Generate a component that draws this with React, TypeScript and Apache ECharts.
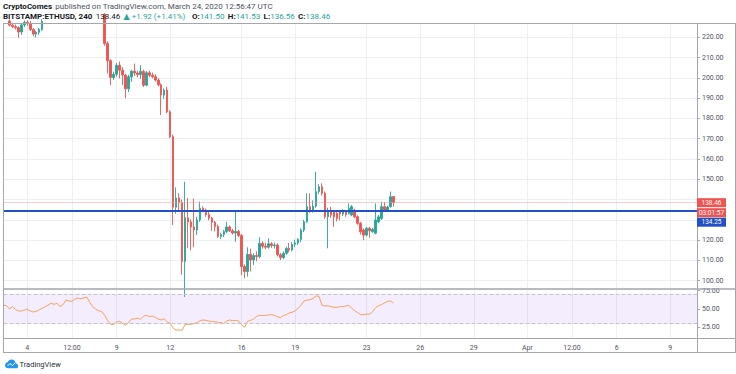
import React, { useEffect, useRef } from "react";
import * as echarts from "echarts";

// ---------- data ----------
const slotCount = 234; // 4h slots from Mar 2 16:00 UTC to Apr 10
const startTime = Date.UTC(2020, 2, 2, 16);
const tickSlots = [8, 23, 38, 56, 80, 98, 122, 140, 158, 176, 191, 206, 224];
const tickLabels = ["4", "12:00", "9", "12", "16", "19", "23", "26", "29", "Apr", "12:00", "6", "9"];

const opens = [
  230.0, 231.5, 228.0, 226.0, 225.3, 224.8, 222.6, 226.1, 227.4, 226.8,
  223.8, 221.6, 222.5, 223.9, 227.8, 229.6, 231.2, 230.1, 232.8, 236.5,
  241.2, 243.8, 242.0, 244.6, 246.3, 243.1, 244.0, 240.7, 238.2, 239.4,
  236.8, 237.5, 235.9, 233.0, 231.2, 217.0, 208.5, 200.2, 201.8, 206.2,
  203.8, 201.4, 194.6, 200.5, 203.3, 202.4, 201.6, 203.2, 196.4, 202.5,
  201.3, 200.6, 198.9, 196.6, 191.5, 194.0, 183.3, 171.0, 136.2, 140.8,
  138.6, 109.5, 131.0, 129.0, 126.5, 125.0, 130.0, 135.7, 134.9, 132.6,
  130.9, 128.8, 126.7, 121.8, 122.8, 124.2, 126.5, 124.6, 123.5, 124.3,
  122.3, 107.0, 104.5, 113.0, 110.2, 112.4, 111.9, 118.4, 117.0, 116.5,
  118.2, 117.3, 117.6, 112.8, 111.4, 113.5, 115.9, 115.1, 118.0, 118.6,
  120.3, 125.0, 129.1, 136.5, 134.9, 136.8, 143.9, 146.3, 143.1, 131.5,
  134.8, 134.0, 133.2, 134.0, 132.9, 134.0, 133.2, 132.4, 134.8, 131.5,
  128.3, 125.0, 122.5, 125.8, 124.2, 123.4, 129.0, 130.7, 136.5, 134.8,
  136.5, 141.5,
];
const closes = [
  231.5, 228.0, 226.0, 225.3, 224.8, 222.6, 226.1, 227.4, 226.8, 223.8,
  221.6, 222.5, 223.9, 227.8, 229.6, 231.2, 230.1, 232.8, 236.5, 241.2,
  243.8, 242.0, 244.6, 246.3, 243.1, 244.0, 240.7, 238.2, 239.4, 236.8,
  237.5, 235.9, 233.0, 231.2, 217.0, 208.5, 200.2, 201.8, 206.2, 203.8,
  201.4, 194.6, 200.5, 203.3, 202.4, 201.6, 203.2, 196.4, 202.5, 201.3,
  200.6, 198.9, 196.6, 191.5, 194.0, 183.3, 171.0, 136.2, 140.8, 138.6,
  109.5, 131.0, 129.0, 126.5, 125.0, 130.0, 135.7, 134.9, 132.6, 130.9,
  128.8, 126.7, 121.8, 122.8, 124.2, 126.5, 124.6, 123.5, 124.3, 122.3,
  107.0, 104.5, 113.0, 110.2, 112.4, 111.9, 118.4, 117.0, 116.5, 118.2,
  117.3, 117.6, 112.8, 111.4, 113.5, 115.9, 115.1, 118.0, 118.6, 120.3,
  125.0, 129.1, 136.5, 134.9, 136.8, 143.9, 146.3, 143.1, 131.5, 134.0,
  132.4, 131.5, 130.7, 132.9, 134.4, 132.6, 135.7, 136.5, 131.5, 128.3,
  124.1, 122.5, 125.8, 124.6, 125.4, 129.9, 131.5, 136.5, 134.8, 136.3,
  141.4, 138.46,
];
const lows = [
  228.5, 227.6, 225.4, 224.6, 223.8, 219.8, 221.2, 225.0, 225.6, 223.1,
  220.5, 219.9, 221.2, 223.2, 227.7, 228.4, 229.0, 229.6, 232.1, 235.8,
  240.1, 240.6, 241.2, 243.5, 242.0, 241.3, 239.5, 236.9, 237.0, 235.6,
  235.1, 234.2, 231.5, 229.4, 215.8, 202.2, 196.5, 199.0, 200.6, 199.8,
  196.5, 189.9, 193.0, 198.0, 201.0, 200.3, 199.5, 195.5, 195.8, 200.4,
  199.8, 198.2, 195.8, 181.7, 189.5, 182.5, 170.2, 127.5, 133.0, 134.0,
  103.0, 92.0, 116.0, 115.0, 116.5, 122.5, 129.0, 133.8, 131.5, 129.8,
  124.6, 124.3, 121.0, 120.6, 121.5, 123.5, 124.0, 122.8, 119.2, 121.5,
  102.8, 101.2, 102.0, 104.5, 107.8, 109.5, 111.0, 115.8, 115.5, 115.8,
  116.2, 115.9, 112.0, 110.2, 110.6, 112.8, 113.9, 114.5, 116.5, 117.6,
  119.0, 124.0, 128.5, 133.5, 133.6, 136.0, 142.8, 142.0, 130.5, 116.0,
  131.0, 126.6, 129.2, 129.8, 131.9, 131.5, 132.6, 131.8, 130.8, 127.6,
  122.8, 120.0, 121.8, 121.2, 123.6, 122.9, 128.4, 130.0, 134.0, 134.2,
  136.0, 136.56,
];
const highs = [
  233.0, 232.0, 228.8, 227.2, 226.3, 225.4, 226.8, 228.3, 228.5, 228.0,
  224.5, 223.2, 224.6, 229.0, 230.8, 232.5, 232.0, 233.9, 237.8, 242.6,
  245.3, 245.0, 246.1, 248.2, 247.0, 245.2, 244.8, 241.8, 240.5, 240.1,
  238.6, 238.3, 236.4, 234.1, 232.0, 218.0, 209.2, 203.0, 207.3, 208.0,
  205.2, 202.0, 201.5, 204.0, 207.0, 203.5, 206.3, 204.0, 203.4, 203.6,
  202.6, 201.8, 199.8, 197.3, 194.8, 195.6, 184.0, 172.0, 146.0, 143.2,
  140.0, 148.8, 140.8, 130.2, 140.5, 131.5, 139.0, 136.6, 135.6, 133.9,
  131.5, 129.5, 127.6, 123.6, 125.0, 129.0, 127.3, 125.6, 134.3, 125.0,
  123.0, 108.0, 116.5, 115.8, 113.5, 114.5, 121.4, 119.5, 118.8, 120.9,
  119.0, 118.8, 118.5, 113.6, 114.5, 116.8, 118.6, 119.0, 120.2, 121.0,
  125.8, 130.0, 143.1, 143.0, 139.6, 153.7, 147.6, 148.0, 144.0, 136.0,
  136.4, 134.6, 134.0, 134.8, 135.2, 134.8, 138.1, 137.3, 135.5, 132.2,
  129.0, 125.8, 126.5, 126.6, 126.1, 138.1, 132.4, 138.9, 138.8, 137.0,
  143.9, 141.53,
];
const rsi = [
  55.1, 54.6, 50.0, 53.2, 49.6, 47.3, 47.3, 48.6, 49.6, 47.3,
  45.9, 46.8, 49.1, 50.9, 53.2, 55.5, 57.8, 56.4, 57.8, 53.2,
  55.9, 62.3, 60.9, 60.5, 63.7, 65.0, 64.1, 65.0, 66.4, 59.0,
  53.2, 49.6, 47.7, 46.4, 41.4, 34.1, 29.1, 28.6, 32.3, 33.2,
  30.4, 27.7, 31.3, 36.3, 36.3, 37.7, 35.9, 40.0, 41.4, 39.5,
  40.4, 38.6, 36.3, 35.0, 36.8, 32.3, 30.4, 24.0, 21.3, 21.3,
  20.9, 28.6, 29.1, 29.1, 30.0, 31.3, 34.0, 35.0, 34.5, 33.6,
  33.0, 32.7, 32.0, 31.3, 30.4, 33.6, 35.0, 34.0, 34.5, 33.6,
  28.6, 25.0, 33.2, 34.5, 35.9, 39.9, 41.4, 41.0, 41.4, 41.8,
  42.2, 41.4, 39.5, 38.1, 40.9, 42.2, 44.6, 45.5, 47.7, 50.9,
  55.5, 60.9, 62.3, 62.7, 64.5, 67.8, 67.3, 55.1, 54.1, 54.6,
  53.2, 52.3, 52.3, 53.2, 53.2, 54.1, 55.1, 51.0, 47.7, 45.0,
  42.2, 42.2, 43.2, 42.7, 46.4, 51.8, 54.6, 55.9, 58.2, 60.4,
  60.9, 58.2,
];
const rsiTicks = [25, 50, 75];
const rsiBand = [30, 70];
const lastPrice = 138.46;
const levelPrice = 134.25;
const countdown = "03:01:57";

// ---------- style ----------
const FONT = 'Roboto, "DejaVu Sans", sans-serif';
const UP = "#26a69a";
const DOWN = "#ef5350";
const GRID = "#eceff5";
const BORDER = "#a3a6ae";
const AXIS_TEXT = "#50535e";
const BLUE = "#2150c8";

echarts.graphic.registerShape(
  "tvcloud",
  echarts.graphic.extendPath(
    "M6 16 C2.5 16 0 13.5 0 10.5 C0 7.7 2.1 5.4 4.8 5.1 C5.9 2.1 8.7 0 12 0 C15.9 0 19.1 2.9 19.5 6.7 C22.1 7.2 24 9.5 24 12.2 C24 14.3 22.3 16 20.2 16 Z",
    {}
  )
);

const categories = Array.from({ length: slotCount }, (_, i) =>
  new Date(startTime + i * 4 * 3600 * 1000).toISOString().slice(0, 16)
);
const isTick = (index: number) => tickSlots.indexOf(index) >= 0;
const labelFor = (index: number) => {
  const k = tickSlots.indexOf(index);
  return k >= 0 ? tickLabels[k] : "";
};
// price-scale labels hidden behind the price tags (as TradingView does)
const hiddenByTag = (v: number) => Math.abs(v - lastPrice) < 6 || Math.abs(v - levelPrice) < 6;

const candleData = opens.map((o, i) => [o, closes[i], lows[i], highs[i]]);

function buildOption() {
  const xBase = {
    type: "category",
    data: categories,
    boundaryGap: false,
    axisLine: { show: false },
    axisTick: { show: false },
    splitLine: { show: true, interval: isTick, lineStyle: { color: GRID, width: 1 } },
  };
  return {
    animation: false,
    backgroundColor: "#ffffff",
    textStyle: { fontFamily: FONT },
    grid: [
      { left: 3.5, right: 39, top: 23, height: 266 },
      { left: 3.5, right: 39, top: 289, height: 49 },
    ],
    xAxis: [
      { ...xBase, gridIndex: 0, axisLabel: { show: false } },
      {
        ...xBase,
        gridIndex: 1,
        axisLabel: {
          show: true,
          interval: isTick,
          formatter: (_v: string, i: number) => labelFor(i),
          fontSize: 7,
          color: AXIS_TEXT,
          margin: 6,
          fontFamily: FONT,
        },
      },
    ],
    yAxis: [
      {
        type: "value",
        gridIndex: 0,
        position: "right",
        min: 95.91,
        max: 227.05,
        splitNumber: 13,
        axisLine: { show: false },
        axisTick: { show: true, length: 3, lineStyle: { color: BORDER } },
        axisLabel: {
          showMinLabel: false,
          showMaxLabel: false,
          formatter: (v: number) => (hiddenByTag(v) ? "" : v.toFixed(2)),
          fontSize: 7,
          color: AXIS_TEXT,
          margin: 5,
          fontFamily: FONT,
        },
        splitLine: { show: true, lineStyle: { color: GRID, width: 1 } },
      },
      {
        type: "value",
        gridIndex: 1,
        position: "right",
        min: 10.38,
        max: 77.32,
        axisLine: { show: false },
        axisTick: { show: true, length: 3, customValues: rsiTicks, lineStyle: { color: BORDER } },
        axisLabel: {
          customValues: rsiTicks,
          formatter: (v: number) => v.toFixed(2),
          fontSize: 7,
          color: AXIS_TEXT,
          margin: 5,
          fontFamily: FONT,
        },
        splitLine: { show: false },
      },
    ],
    series: [
      {
        type: "candlestick",
        xAxisIndex: 0,
        yAxisIndex: 0,
        data: candleData,
        barWidth: 2,
        clip: true,
        itemStyle: {
          color: UP,
          color0: DOWN,
          borderColor: UP,
          borderColor0: DOWN,
          borderWidth: 0.9,
        },
        markLine: {
          silent: true,
          symbol: ["none", "none"],
          label: { show: false },
          data: [
            { yAxis: lastPrice, lineStyle: { color: "#f29c9a", type: "dotted", width: 1 } },
            { yAxis: levelPrice, lineStyle: { color: BLUE, type: "solid", width: 2 } },
          ],
        },
      },
      {
        type: "line",
        xAxisIndex: 1,
        yAxisIndex: 1,
        data: rsi,
        symbol: "none",
        showSymbol: false,
        lineStyle: { color: "#f5a15c", width: 1 },
        markArea: {
          silent: true,
          itemStyle: { color: "rgba(149, 76, 233, 0.1)" },
          data: [[{ yAxis: rsiBand[0] }, { yAxis: rsiBand[1] }]],
        },
        markLine: {
          silent: true,
          symbol: ["none", "none"],
          label: { show: false },
          lineStyle: { color: "#c6c3cc", type: "dashed", width: 1 },
          data: [{ yAxis: rsiBand[1] }, { yAxis: rsiBand[0] }],
        },
      },
    ],
  };
}

function hline(y: number, x1: number, x2: number, w = 1, color = BORDER) {
  return { type: "line", z: 100, shape: { x1, y1: y, x2, y2: y }, style: { stroke: color, lineWidth: w } };
}
function vline(x: number, y1: number, y2: number, w = 1, color = BORDER) {
  return { type: "line", z: 100, shape: { x1: x, y1, x2: x, y2 }, style: { stroke: color, lineWidth: w } };
}
function priceTag(y: number, text: string, bg: string) {
  return [
    { type: "rect", z: 110, shape: { x: 697, y: y - 4.5, width: 29, height: 9 }, style: { fill: bg } },
    {
      type: "text",
      z: 111,
      x: 711.5,
      y: y,
      style: {
        text,
        fill: "#ffffff",
        fontSize: 6.5,
        fontFamily: FONT,
        textAlign: "center",
        textVerticalAlign: "middle",
      },
    },
  ];
}

function buildGraphic(yLast: number, yLevel: number) {
  const tagLevelY = Math.max(yLevel, yLast + 19.5);
  return [
    hline(23.5, 3, 736),
    hline(289, 3, 736, 1.5),
    hline(338.5, 3, 736),
    hline(352.5, 3, 736),
    vline(3.5, 23, 353),
    vline(697.5, 23, 353),
    vline(735.5, 23, 353),
    ...priceTag(yLast, lastPrice.toFixed(2), DOWN),
    ...priceTag(yLast + 10, countdown, DOWN),
    ...priceTag(tagLevelY, levelPrice.toFixed(2), BLUE),
    {
      type: "text",
      z: 120,
      x: 3,
      y: 6,
      style: {
        text: "{b|CryptoComes} {n|published on TradingView.com, March 24, 2020 12:56:47 UTC}",
        textVerticalAlign: "middle",
        rich: {
          b: { fontWeight: "bold", fontSize: 8, fill: "#131722", fontFamily: FONT },
          n: { fontSize: 8, fill: "#4c525e", fontFamily: FONT },
        },
      },
    },
    {
      type: "text",
      z: 120,
      x: 3,
      y: 16.5,
      style: {
        text:
          "{b|BITSTAMP:ETHUSD, 240} {n|138.46} {g|▲ +1.92 (+1.41%)}  {b|O:}{g|141.50} {b|H:}{g|141.53} {b|L:}{g|136.56} {b|C:}{g|138.46}",
        textVerticalAlign: "middle",
        rich: {
          b: { fontWeight: "bold", fontSize: 8, fill: "#131722", fontFamily: FONT },
          n: { fontSize: 8, fill: "#131722", fontFamily: FONT },
          g: { fontSize: 8, fill: UP, fontFamily: FONT },
        },
      },
    },
    {
      type: "tvcloud",
      z: 120,
      x: 5,
      y: 359.5,
      scaleX: 0.55,
      scaleY: 0.55,
      style: { fill: "#2196f3" },
    },
    {
      type: "polyline",
      z: 121,
      shape: { points: [[7.5, 366], [10, 363.5], [12.5, 365.5], [15.5, 362.5]] },
      style: { stroke: "#ffffff", lineWidth: 1, fill: "none" },
    },
    {
      type: "text",
      z: 120,
      x: 19.5,
      y: 364.5,
      style: {
        text: "TradingView",
        fill: "#2a2e39",
        fontSize: 7.5,
        fontFamily: FONT,
        textVerticalAlign: "middle",
      },
    },
  ];
}

export default function App() {
  const ref = useRef<HTMLDivElement>(null);
  useEffect(() => {
    if (!ref.current) return;
    const chart = echarts.init(ref.current, null, { renderer: "svg", width: 736, height: 374 });
    chart.setOption(buildOption() as any);
    const yLast = chart.convertToPixel({ yAxisIndex: 0 } as any, lastPrice) as unknown as number;
    const yLevel = chart.convertToPixel({ yAxisIndex: 0 } as any, levelPrice) as unknown as number;
    chart.setOption({ graphic: buildGraphic(yLast, yLevel) } as any);
    return () => chart.dispose();
  }, []);
  return (
    <div
      ref={ref}
      style={{ position: "fixed", left: 0, top: 0, width: 736, height: 374, background: "#fff" }}
    />
  );
}
